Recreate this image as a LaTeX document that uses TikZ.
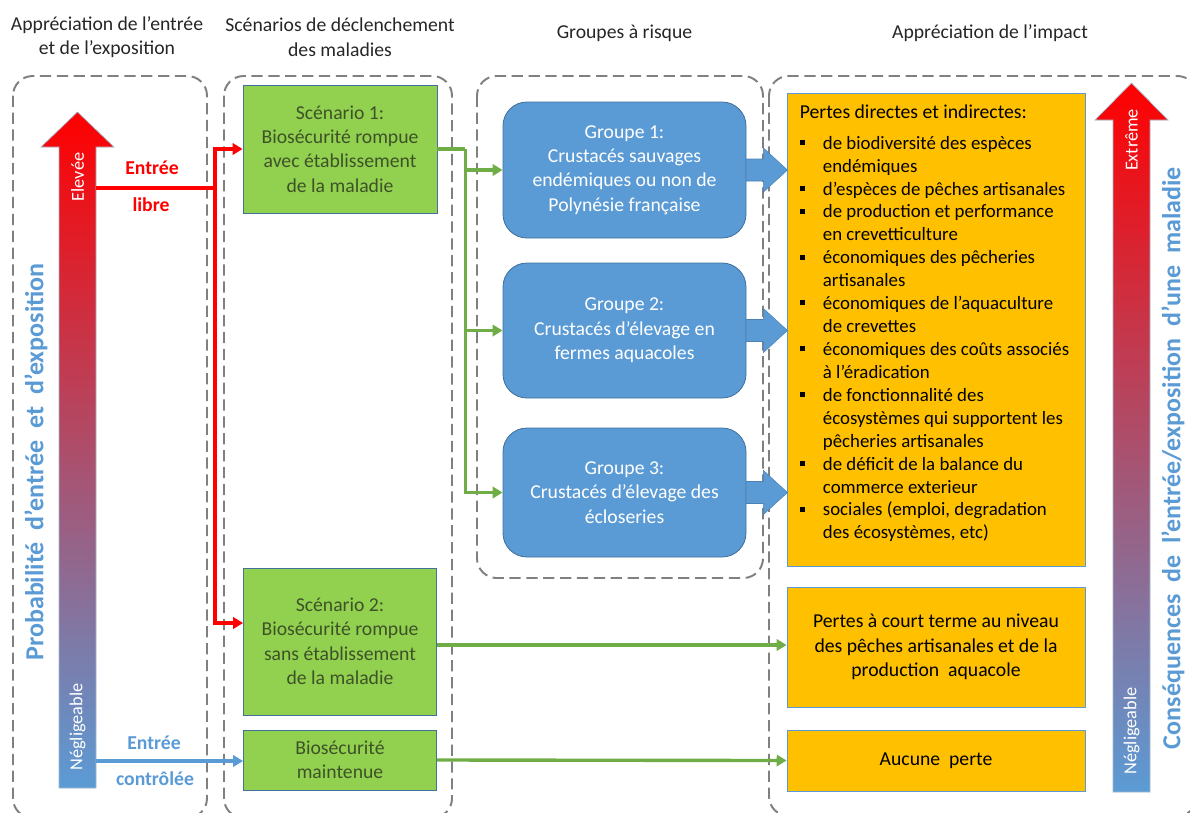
\documentclass[tikz,border=0pt]{standalone}
\usepackage{fontspec}
\setmainfont{Carlito}
\usetikzlibrary{arrows.meta,calc}

\definecolor{scengreen}{RGB}{146,208,80}
\definecolor{scentext}{RGB}{62,82,40}
\definecolor{grpblue}{RGB}{91,155,213}
\definecolor{boxedge}{RGB}{65,113,156}
\definecolor{impact}{RGB}{255,192,0}
\definecolor{linkgreen}{RGB}{112,173,71}
\definecolor{panelgray}{RGB}{128,128,128}
\definecolor{headgray}{RGB}{38,38,38}

\def\pxu{0.025cm}
\newcommand\diagfont{\fontsize{14}{17.4}\selectfont}
\newcommand\listfont{\fontsize{13.4}{16.3}\selectfont}
\newcommand\bul{\makebox[16.4pt][l]{\rule[0.22em]{3.6pt}{3.6pt}}}
\newcommand\ind{\hspace*{16.4pt}}

\tikzset{
  panel/.style={draw=panelgray, line width=1.4pt, dash pattern=on 8pt off 4pt, rounded corners=14pt},
  head/.style={align=center, text=headgray, font=\diagfont, inner sep=0pt},
  scenbox/.style={draw=boxedge, line width=0.6pt, fill=scengreen, text=scentext, align=center, inner sep=0pt, font=\diagfont},
  grpbox/.style={draw=boxedge, line width=0.6pt, fill=grpblue, text=white, align=center, inner sep=0pt, rounded corners=17pt, font=\diagfont},
  impbox/.style={draw=grpblue, line width=0.6pt, fill=impact, text=black, align=center, inner sep=0pt, font=\diagfont},
  scale label/.style={rotate=90, text=white, font=\fontsize{13}{15}\selectfont, inner sep=0pt},
  side title/.style={rotate=90, text=grpblue, font=\fontsize{18.5}{22}\selectfont\bfseries, inner sep=0pt},
  redline/.style={draw=red, line width=2.5pt},
  greenline/.style={draw=linkgreen, line width=2.4pt},
  blueline/.style={draw=grpblue, line width=2.4pt},
  tip/.style={-{Triangle[length=7pt,width=8pt]}},
  blockarrow/.style={fill=grpblue, draw=boxedge!60!grpblue, line width=0.4pt}
}

\begin{document}
\begin{tikzpicture}[x=0.025cm, y=-0.025cm]
\def \xscen {340}
\def \xgrp {624.5}
\def \ximp {936}
\def \xlarrow {77.5}
\def \xrarrow {1131.5}
\useasboundingbox (0,0) rectangle (1190,812);

% headers
\node[head] (hone) at (107,37) {Appréciation de l’entrée\\et de l’exposition};
\node[head] (htwo) at (\xscen,37) {Scénarios de déclenchement\\des maladies};
\node[head] (hthree) at (\xgrp,33) {Groupes à risque};
\node[head] (hfour) at (990,33) {Appréciation de l’impact};

% dashed panels
\draw[panel] (13,76) rectangle (207,818);
\draw[panel] (224,76) rectangle (452,818);
\draw[panel] (477,76) rectangle (763,578);
\draw[panel] (769,76) rectangle (1197,816);

% scale arrows
\shadedraw[top color=red, bottom color=grpblue, draw=boxedge!50!white, line width=0.5pt]
  (59,788) -- (59,147) -- (41,147) -- (\xlarrow,112) -- (114,147) -- (96,147) -- (96,788) -- cycle;
\shadedraw[top color=red, bottom color=grpblue, draw=boxedge!50!white, line width=0.5pt]
  (1113,792) -- (1113,120) -- (1095,120) -- (\xrarrow,83) -- (1168,120) -- (1150,120) -- (1150,792) -- cycle;
\node[scale label] (elevee) at (\xlarrow,177) {Elevée};
\node[scale label] (neglone) at (\xlarrow,727) {Négligeable};
\node[scale label] (extreme) at (\xrarrow,140) {Extrême};
\node[scale label] (negltwo) at (\xrarrow,731) {Négligeable};

% side titles
\node[side title] (probtitle) at (36,462) {Probabilité\ \ d’entrée\ \ et\ \ d’exposition};
\node[side title] (constitle) at (1173,458) {Conséquences\ \ de\ \ l’entrée/exposition\ \ d’une\ \ maladie};

% scenarios
\node[scenbox, minimum width=194*\pxu, minimum height=128*\pxu] (scen1) at (\xscen,149)
  {Scénario 1:\\Biosécurité rompue\\avec établissement\\de la maladie};
\node[scenbox, minimum width=193*\pxu, minimum height=147*\pxu] (scen2) at (\xscen,641.5)
  {Scénario 2:\\Biosécurité rompue\\sans établissement\\de la maladie};
\node[scenbox, minimum width=193*\pxu, minimum height=60*\pxu] (maint) at (\xscen,760)
  {Biosécurité\\maintenue};

% groups
\node[grpbox, minimum width=243*\pxu, minimum height=136*\pxu] (grp1) at (\xgrp,170)
  {Groupe 1:\\Crustacés sauvages\\endémiques ou non de\\Polynésie française};
\node[grpbox, minimum width=243*\pxu, minimum height=135*\pxu] (grp2) at (\xgrp,330.5)
  {Groupe 2:\\Crustacés d’élevage en\\fermes aquacoles};
\node[grpbox, minimum width=243*\pxu, minimum height=129*\pxu] (grp3) at (\xgrp,492.5)
  {Groupe 3:\\Crustacés d’élevage des\\écloseries};

% impacts
\node[impbox, minimum width=298*\pxu, minimum height=473*\pxu] (pbig) at (\ximp,329.5) {};
\node[anchor=north west, align=left, inner sep=0pt, font=\listfont] (pbigtxt) at ($(pbig.north west)+(13,12)$)
  {{\diagfont Pertes directes et indirectes:}\\[5.5pt]
   \bul de biodiversité des espèces\\
   \ind endémiques\\
   \bul d’espèces de pêches artisanales\\
   \bul de production et performance\\
   \ind en crevetticulture\\
   \bul économiques des pêcheries\\
   \ind artisanales\\
   \bul économiques de l’aquaculture\\
   \ind de crevettes\\
   \bul économiques des coûts associés\\
   \ind à l’éradication\\
   \bul de fonctionnalité des\\
   \ind écosystèmes qui supportent les\\
   \ind pêcheries artisanales\\
   \bul de déficit de la balance du\\
   \ind commerce exterieur\\
   \bul sociales (emploi, degradation\\
   \ind des écosystèmes, etc)};
\node[impbox, minimum width=298*\pxu, minimum height=120*\pxu] (pmid) at (\ximp,647)
  {Pertes à court terme au niveau\\des pêches artisanales et de la\\production\ \ aquacole};
\node[impbox, minimum width=298*\pxu, minimum height=61*\pxu] (pnone) at (\ximp,760.5)
  {Aucune\ \ perte};

% entry links
\coordinate (libre) at (96,188);
\coordinate (ctrl) at (96,761);
\coordinate (rj) at (215,188);
\draw[redline] (libre) -- (rj);
\draw[redline, tip] (rj) |- (scen1.west);
\draw[redline, tip] (rj) |- (scen2.west |- 0,623);
\draw[blueline, tip] (ctrl) -- (maint.west |- ctrl);
\node[text=red, font=\diagfont\bfseries] (entreeone) at (152,168) {Entrée};
\node[text=red, font=\diagfont\bfseries] (libretxt) at (151,205) {libre};
\node[text=grpblue, font=\diagfont\bfseries] (entreetwo) at (154,743) {Entrée};
\node[text=grpblue, font=\diagfont\bfseries] (ctrltxt) at (155,779) {contrôlée};

% scenario to groups
\coordinate (gj) at ($(scen1.east)+(28,0)$);
\draw[greenline] (scen1.east) -- (gj);
\foreach \g in {grp1,grp2,grp3}
  \draw[greenline, tip] (gj) |- (\g.west);
\draw[greenline, tip] (scen2.east |- 0,645) -- (pmid.west |- 0,645);
\draw[greenline, tip] (maint.east) -- (pnone.west);

% groups to impacts
\foreach \g in {grp1,grp2,grp3}
  \draw[blockarrow] ($(\g.east)+(0,-11)$) -- ++(17,0) -- ++(0,-11) -- ++(24,22)
    -- ++(-24,22) -- ++(0,-11) -- ++(-17,0) -- cycle;

\end{tikzpicture}
\end{document}
